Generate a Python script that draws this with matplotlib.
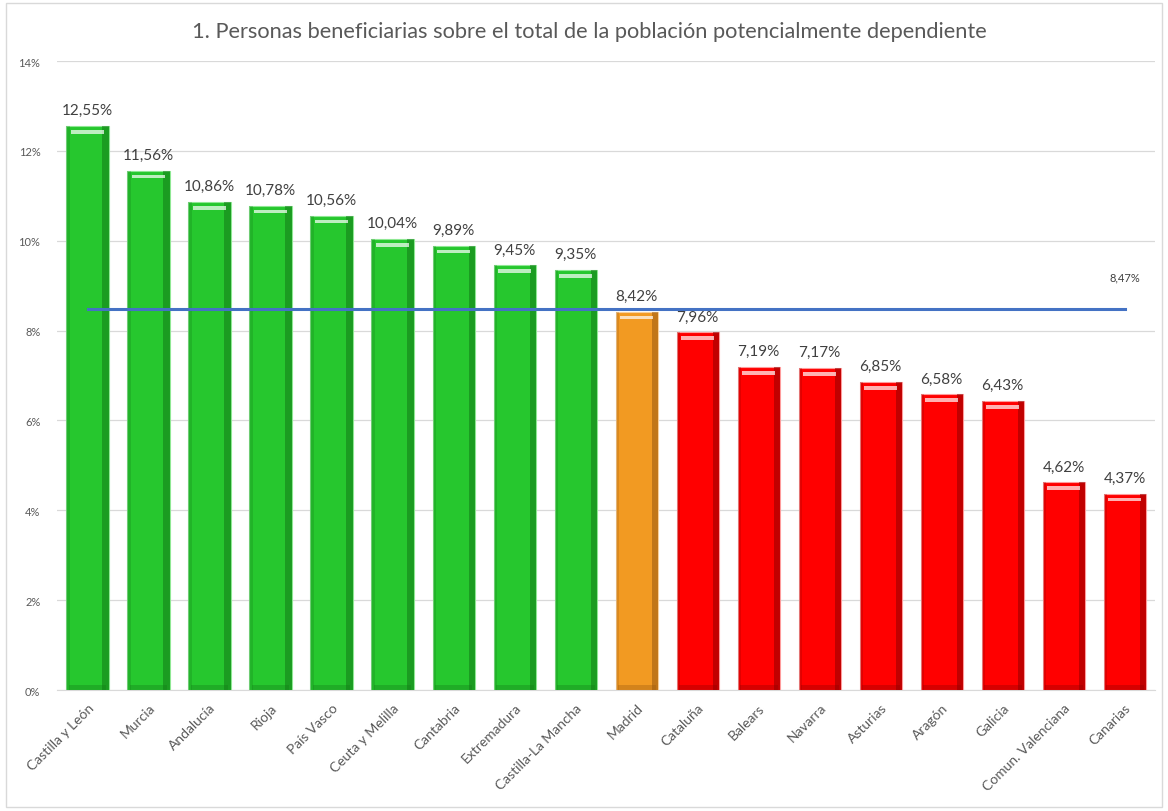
import matplotlib.pyplot as plt
import numpy as np
from matplotlib.patches import Rectangle

# datos
regiones = ['Castilla y León', 'Murcia', 'Andalucía', 'Rioja', 'País Vasco',
            'Ceuta y Melilla', 'Cantabria', 'Extremadura', 'Castilla-La Mancha',
            'Madrid', 'Cataluña', 'Balears', 'Navarra', 'Asturias', 'Aragón',
            'Galicia', 'Comun. Valenciana', 'Canarias']
valores = [12.55, 11.56, 10.86, 10.78, 10.56, 10.04, 9.89, 9.45, 9.35,
           8.42, 7.96, 7.19, 7.17, 6.85, 6.58, 6.43, 4.62, 4.37]
media = 8.47
grupo = ['verde'] * 9 + ['naranja'] + ['rojo'] * 8

colores = {'verde': '#26C72E', 'naranja': '#F29A22', 'rojo': '#FF0000'}
oscuros = {'verde': '#137A18', 'naranja': '#9A5A10', 'rojo': '#8E0000'}
claros = {'verde': '#8FE893', 'naranja': '#FAD09A', 'rojo': '#FF9C9C'}

plt.rcParams['font.family'] = ['Lato', 'DejaVu Sans']

fig = plt.figure(figsize=(11.68, 8.12), dpi=100)
ax = fig.add_axes([0.0488, 0.149, 0.9402, 0.7746])

x = np.arange(len(regiones))
w = 0.69
c_main = [colores[g] for g in grupo]
c_dark = [oscuros[g] for g in grupo]
c_light = [claros[g] for g in grupo]

# barras con efecto bisel
ax.bar(x, valores, width=w, color=c_main, edgecolor=c_light, linewidth=0.8, zorder=3)
ax.bar(x + w / 2 - 0.1, valores, width=0.1, align='edge', color=c_dark, alpha=0.55,
       linewidth=0, zorder=4)
ax.bar(x - w / 2, valores, width=0.05, align='edge', color=c_dark, alpha=0.25,
       linewidth=0, zorder=4)
ax.bar(x, [0.12] * len(x), width=w * 0.9, color=c_dark, alpha=0.35, linewidth=0, zorder=4)
tope = np.array(valores)
ax.bar(x, [0.08] * len(x), bottom=tope - 0.17, width=w * 0.78, color='white', alpha=0.7,
       linewidth=0, zorder=5)

for xi, v in zip(x, valores):
    ax.text(xi, v + 0.2, f'{v:.2f}%'.replace('.', ','), ha='center', va='bottom',
            fontsize=11, color='#404040', zorder=6)

# línea de la media
ax.plot([x[0], x[-1]], [media, media], color='#4472C4', linewidth=2.2, zorder=6)
ax.text(x[-1], media + 0.6, f'{media:.2f}%'.replace('.', ','), ha='center', va='bottom',
        fontsize=8, color='#404040')

ax.set_xlim(-0.5, len(x) - 0.5)
ax.set_ylim(0, 14)
ax.set_yticks(np.arange(0, 15, 2))
ax.set_yticklabels([f'{t}%' for t in range(0, 15, 2)])
ax.yaxis.grid(True, color='#D9D9D9', linewidth=0.9)
ax.set_axisbelow(True)
for s in ['top', 'right', 'left']:
    ax.spines[s].set_visible(False)
ax.spines['bottom'].set_color('#D9D9D9')
ax.tick_params(axis='both', length=0, colors='#595959')
ax.tick_params(axis='y', labelsize=8, pad=12)
ax.set_xticks(x)
ax.set_xticklabels(regiones, rotation=45, ha='right', rotation_mode='anchor',
                   fontsize=10, color='#595959')
ax.tick_params(axis='x', pad=8)

fig.text(0.505, 0.960, '1. Personas beneficiarias sobre el total de la población potencialmente dependiente',
         ha='center', va='center', fontsize=15.7, color='#595959')

# borde del gráfico
fig.patches.append(Rectangle((0.005, 0.005), 0.99, 0.99, transform=fig.transFigure,
                             fill=False, edgecolor='#D9D9D9', linewidth=1))

fig.savefig('out.png', dpi=100)
